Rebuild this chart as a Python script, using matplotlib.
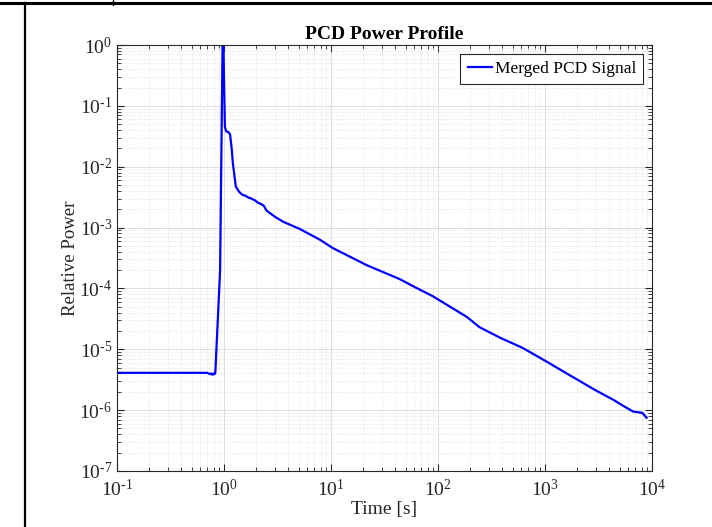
import numpy as np
import matplotlib
matplotlib.use("Agg")
import matplotlib.pyplot as plt
from matplotlib.lines import Line2D
from matplotlib.ticker import FixedLocator, FuncFormatter

plt.rcParams["font.family"] = ["Liberation Serif", "DejaVu Serif"]
plt.rcParams["mathtext.fontset"] = "custom"
plt.rcParams["mathtext.rm"] = "Liberation Serif"
plt.rcParams["mathtext.it"] = "Liberation Serif:italic"
plt.rcParams["mathtext.bf"] = "Liberation Serif:bold"

# ---- data (time [s], relative power) ----
time_s = [0.1, 0.3, 0.6, 0.70, 0.74, 0.76, 0.78, 0.80, 0.82, 0.83,
          0.92, 0.97, 0.99, 1.00, 1.02, 1.05, 1.10, 1.14, 1.18, 1.21,
          1.29, 1.38, 1.47, 1.60, 1.70, 1.80, 1.95, 2.05, 2.20, 2.35,
          2.50, 3.0, 3.56, 5.1, 7.9, 10.4, 21.7, 44, 59, 90,
          186, 245, 380, 620, 1000, 1820, 3000, 4350, 5500, 6640,
          8130, 8900]
power = [4.1e-6, 4.1e-6, 4.1e-6, 4.1e-6, 3.9e-6, 4.0e-6, 3.8e-6, 4.0e-6, 3.9e-6, 4.1e-6,
         2e-4, 1.0, 0.9, 0.3, 0.045, 0.038, 0.037, 0.034, 0.02, 0.0115,
         0.0047, 0.0039, 0.0035, 0.0033, 0.0031, 0.0030, 0.0028, 0.0026, 0.00245, 0.0023,
         0.0019, 0.0015, 0.00125, 0.00095, 0.00063, 4.6e-4, 2.4e-4, 1.42e-4, 1.08e-4, 7.4e-5,
         3.4e-5, 2.3e-5, 1.55e-5, 1.05e-5, 6.5e-6, 3.5e-6, 2.1e-6, 1.48e-6, 1.15e-6, 9.5e-7,
         9.0e-7, 7.5e-7]
x_decades = list(range(-1, 5))
y_decades = list(range(-7, 1))


def matlab_pow10(v, pos):
    e = int(round(np.log10(v)))
    exp = r"\text{-}%d" % -e if e < 0 else "%d" % e
    return r"$\mathdefault{10^{%s}}$" % exp


fig = plt.figure(figsize=(7.12, 5.27), dpi=100)
ax = fig.add_axes([0.1643, 0.1063, 0.7514, 0.8083])

ax.loglog(time_s, power, color=(0, 0, 1), lw=1.6, label="Merged PCD Signal")
ax.set_xlim(1e-1, 1e4)
ax.set_ylim(1e-7, 1e0)

# MATLAB-like axes: box on, ticks inside on all sides, major + minor grid
ax.grid(True, which="major", color="0.87", lw=0.7, ls="-")
ax.grid(True, which="minor", color="0.87", lw=0.6, ls=":")
ax.tick_params(which="both", direction="in", top=True, right=True,
               colors="0.15", labelcolor="0.15", labelsize=14)
ax.tick_params(which="major", length=5)
ax.tick_params(which="minor", length=3)
ax.tick_params(axis="x", which="major", pad=6)
ax.xaxis.set_major_locator(FixedLocator([10.0 ** k for k in x_decades]))
ax.yaxis.set_major_locator(FixedLocator([10.0 ** k for k in y_decades]))
ax.xaxis.set_major_formatter(FuncFormatter(matlab_pow10))
ax.yaxis.set_major_formatter(FuncFormatter(matlab_pow10))
for s in ax.spines.values():
    s.set_color("0.15")
    s.set_linewidth(0.8)

ax.set_xlabel("Time [s]", fontsize=14, color="0.15", labelpad=0)
ax.set_ylabel("Relative Power", fontsize=13.5, color="0.15", labelpad=0)
ax.set_title("PCD Power Profile", fontsize=14, fontweight="bold", pad=4)

leg = ax.legend(loc="upper right", fontsize=12.5, frameon=True, fancybox=False,
                handlelength=1.4, handletextpad=0.15, borderpad=0.42,
                borderaxespad=0.5)
leg.get_frame().set_edgecolor("0.15")
leg.get_frame().set_linewidth(0.8)
leg.get_frame().set_alpha(1)

# table cell borders visible around the original figure
fig.add_artist(Line2D([0, 1], [1 - 2.5 / 527, 1 - 2.5 / 527], color="black", lw=2.2,
                      transform=fig.transFigure))
fig.add_artist(Line2D([25 / 712, 25 / 712], [0, 1 - 2.5 / 527], color="black", lw=1.6,
                      transform=fig.transFigure))
fig.add_artist(Line2D([113 / 712, 113 / 712], [1 - 5 / 527, 1], color="black", lw=1.0,
                      transform=fig.transFigure))

fig.savefig("out.png", dpi=100)
